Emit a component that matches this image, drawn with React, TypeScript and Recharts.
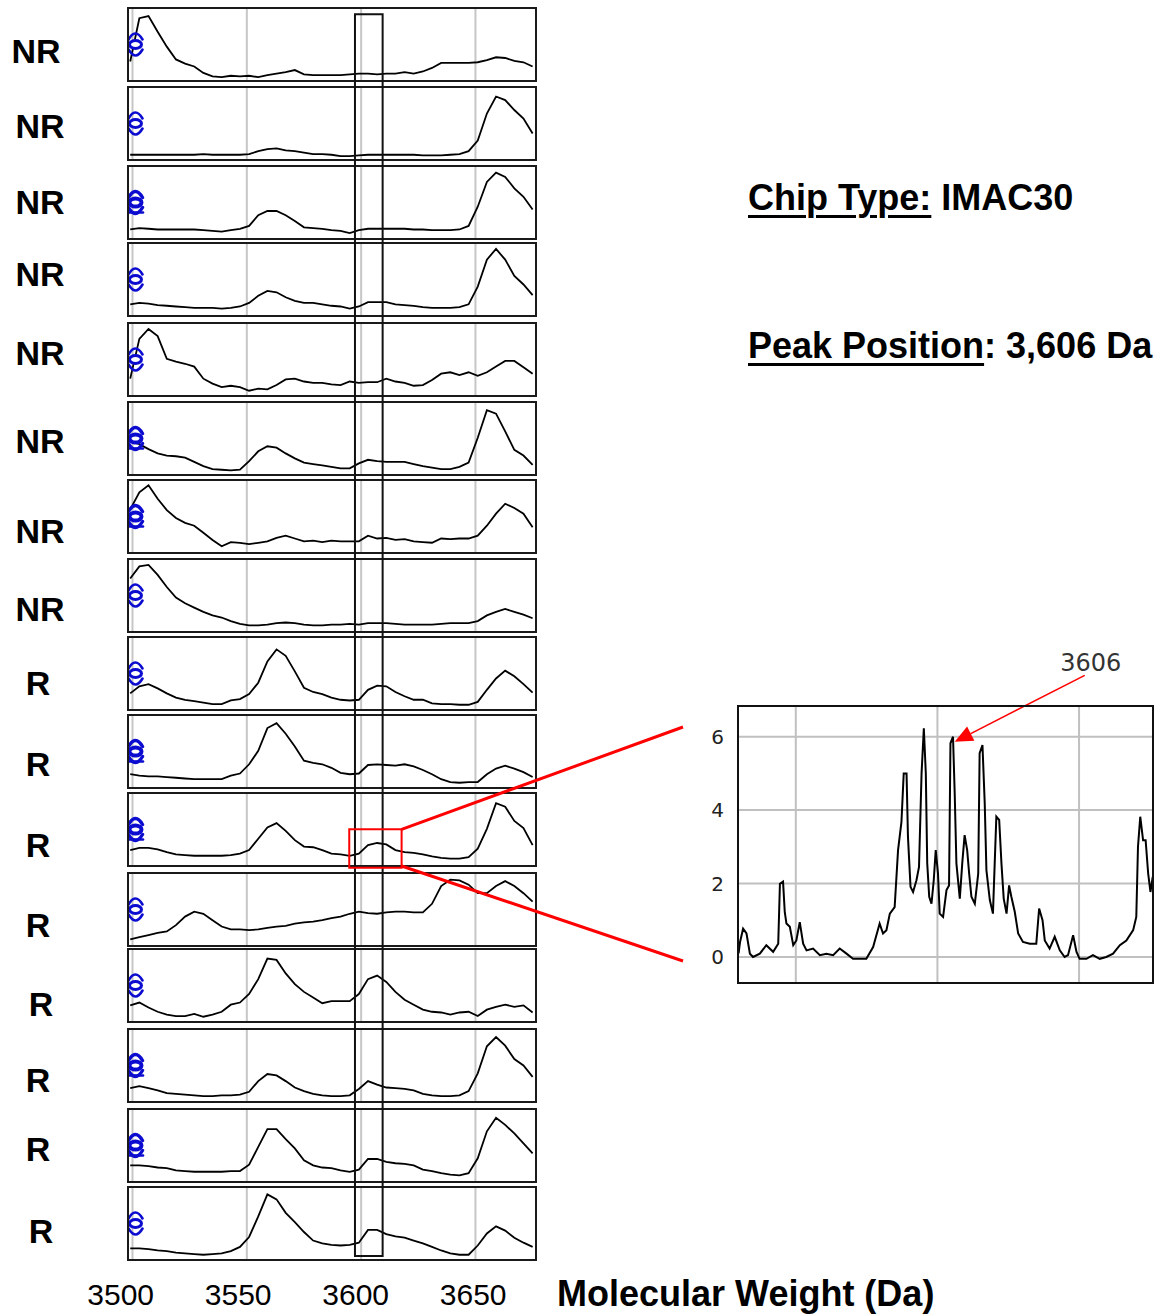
import React from 'react';
import { LineChart, Line, XAxis, YAxis, ReferenceLine, ReferenceArea, ReferenceDot } from 'recharts';

// masses (Da) at which each stacked spectrum was read
const masses = [
  3499, 3503, 3507, 3511, 3515, 3519, 3523, 3527, 3531, 3535, 3539, 3543, 3547, 3551, 3555,
  3559, 3563, 3567, 3571, 3575, 3579, 3583, 3587, 3591, 3595, 3599, 3603, 3607, 3611, 3615,
  3619, 3623, 3627, 3631, 3635, 3639, 3643, 3647, 3651, 3655, 3659, 3663, 3667, 3671, 3675,
];

// relative intensity (% of panel height), top to bottom
const nr1 = [26, 87, 90, 68, 47, 29, 23, 19, 10, 5, 4, 6, 5, 6, 4, 7, 9, 11, 14, 8, 7, 7, 7, 7, 8, 9, 9, 8, 9, 9, 11, 9, 12, 17, 24, 24, 24, 24, 25, 28, 32, 31, 27, 25, 19];
const nr2 = [6, 6, 6, 6, 6, 6, 6, 6, 7, 6, 6, 6, 6, 7, 11, 14, 15, 12, 11, 9, 7, 7, 6, 4, 4, 5, 6, 6, 6, 6, 6, 6, 5, 5, 5, 6, 7, 11, 26, 64, 88, 83, 69, 57, 36];
const nr3 = [12, 14, 13, 12, 12, 12, 12, 12, 11, 10, 9, 11, 13, 17, 32, 38, 38, 32, 24, 15, 14, 13, 11, 10, 7, 11, 13, 13, 13, 13, 13, 12, 12, 11, 11, 11, 12, 17, 44, 79, 92, 86, 70, 58, 40];
const nr4 = [15, 17, 16, 14, 13, 12, 11, 10, 10, 10, 9, 10, 12, 17, 27, 34, 32, 25, 20, 17, 17, 15, 13, 12, 9, 12, 18, 18, 18, 15, 14, 13, 11, 10, 10, 10, 11, 15, 40, 78, 93, 78, 55, 43, 28];
const nr5 = [23, 79, 93, 83, 51, 47, 44, 40, 23, 16, 11, 13, 11, 6, 9, 8, 14, 22, 23, 19, 17, 17, 15, 14, 19, 17, 18, 18, 23, 19, 17, 13, 14, 21, 30, 32, 28, 32, 27, 32, 40, 48, 48, 39, 30];
const nr6 = [46, 42, 35, 29, 26, 25, 23, 17, 11, 7, 6, 5, 6, 18, 32, 39, 37, 29, 22, 16, 14, 12, 10, 8, 8, 15, 20, 18, 17, 17, 17, 14, 11, 9, 7, 7, 10, 16, 51, 90, 85, 60, 34, 26, 13];
const nr7 = [60, 84, 94, 75, 59, 48, 41, 37, 27, 17, 8, 14, 13, 11, 13, 15, 20, 23, 19, 15, 16, 14, 16, 15, 15, 15, 23, 19, 20, 17, 18, 15, 14, 13, 19, 18, 19, 19, 23, 37, 54, 68, 62, 54, 35];
const nr8 = [74, 91, 93, 79, 62, 47, 39, 33, 27, 22, 19, 14, 10, 8, 8, 9, 11, 12, 11, 9, 8, 8, 9, 9, 10, 9, 11, 11, 11, 10, 9, 9, 9, 9, 10, 11, 11, 11, 14, 22, 27, 31, 27, 23, 18];
const r1 = [22, 32, 35, 29, 22, 16, 13, 11, 9, 7, 7, 12, 14, 21, 37, 67, 84, 75, 53, 30, 24, 21, 16, 13, 12, 13, 27, 33, 32, 24, 18, 13, 13, 8, 7, 7, 6, 6, 10, 27, 43, 54, 46, 35, 23];
const r2 = [18, 16, 15, 15, 14, 13, 12, 11, 11, 11, 11, 16, 19, 32, 51, 83, 90, 75, 57, 37, 34, 32, 27, 20, 18, 19, 31, 32, 31, 30, 32, 29, 24, 18, 11, 7, 6, 7, 7, 18, 26, 30, 26, 21, 14];
const r3 = [21, 24, 24, 22, 18, 15, 14, 13, 13, 13, 13, 14, 16, 21, 37, 53, 59, 48, 35, 26, 25, 21, 16, 15, 13, 16, 28, 31, 29, 21, 18, 17, 15, 12, 10, 9, 9, 11, 23, 51, 87, 82, 62, 52, 28];
const r4 = [8, 11, 14, 17, 19, 28, 40, 47, 44, 35, 26, 22, 22, 21, 22, 24, 26, 27, 30, 32, 33, 35, 38, 40, 44, 47, 45, 44, 46, 47, 47, 46, 46, 58, 83, 92, 91, 85, 73, 73, 83, 90, 83, 73, 61];
const r5 = [22, 26, 19, 13, 9, 7, 7, 10, 6, 9, 13, 23, 26, 38, 59, 88, 86, 67, 52, 41, 33, 25, 28, 28, 28, 38, 59, 64, 55, 41, 30, 23, 16, 13, 12, 9, 12, 13, 7, 16, 20, 23, 20, 22, 12];
const r6 = [18, 21, 18, 15, 11, 10, 9, 8, 7, 7, 8, 8, 9, 13, 28, 38, 36, 28, 19, 14, 10, 8, 7, 7, 8, 17, 28, 23, 19, 18, 17, 15, 10, 8, 7, 7, 8, 14, 39, 77, 90, 78, 59, 50, 34];
const r7 = [22, 22, 21, 19, 18, 15, 14, 13, 13, 13, 13, 14, 14, 23, 48, 73, 73, 59, 46, 29, 22, 19, 18, 15, 13, 16, 31, 31, 27, 25, 24, 22, 16, 14, 11, 9, 8, 11, 32, 70, 89, 79, 67, 53, 39];
const r8 = [15, 15, 14, 12, 11, 9, 8, 7, 6, 7, 8, 11, 17, 31, 60, 91, 84, 65, 52, 38, 26, 22, 20, 19, 20, 23, 41, 41, 35, 32, 30, 26, 22, 17, 12, 8, 6, 6, 19, 36, 46, 40, 30, 23, 17];

const spectra = [nr1, nr2, nr3, nr4, nr5, nr6, nr7, nr8, r1, r2, r3, r4, r5, r6, r7, r8];
const sampleLabels = ['NR', 'NR', 'NR', 'NR', 'NR', 'NR', 'NR', 'NR', 'R', 'R', 'R', 'R', 'R', 'R', 'R', 'R'];
const gridMasses = [3500, 3550, 3600, 3650];
const windowMass = [3597.3, 3609.4];
const zoomMass = [3594.8, 3617.7];

// zoomed spectrum (inset)
const insetMasses = [
  3597.98, 3598.03, 3598.14, 3598.26, 3598.38, 3598.49, 3598.73, 3598.96, 3599.2, 3599.38,
  3599.44, 3599.55, 3599.61, 3599.67, 3599.79, 3599.91, 3600.02, 3600.14, 3600.26, 3600.38,
  3600.61, 3600.85, 3601.08, 3601.32, 3601.55, 3601.79, 3602.02, 3602.49, 3602.73, 3602.96,
  3603.08, 3603.2, 3603.32, 3603.49, 3603.61, 3603.73, 3603.81, 3603.91, 3603.96, 3604.05,
  3604.14, 3604.26, 3604.35, 3604.44, 3604.52, 3604.59, 3604.64, 3604.71, 3604.79, 3604.87,
  3604.94, 3605.02, 3605.08, 3605.2, 3605.32, 3605.41, 3605.46, 3605.55, 3605.61, 3605.67,
  3605.79, 3605.88, 3605.96, 3606.05, 3606.12, 3606.2, 3606.32, 3606.44, 3606.49, 3606.59,
  3606.67, 3606.73, 3606.85, 3606.96, 3607.08, 3607.18, 3607.26, 3607.34, 3607.44, 3607.53,
  3607.61, 3607.73, 3607.85, 3608.02, 3608.26, 3608.49, 3608.59, 3608.71, 3608.79, 3608.96,
  3609.14, 3609.32, 3609.49, 3609.61, 3609.79, 3609.91, 3610.02, 3610.26, 3610.49, 3610.73,
  3610.96, 3611.2, 3611.44, 3611.67, 3611.91, 3612.02, 3612.08, 3612.16, 3612.26, 3612.35,
  3612.44, 3612.52, 3612.6,
];
const insetIntensity = [
  0.1, 0.4, 0.77, 0.64, 0.09, 0, 0.09, 0.32, 0.14, 0.36,
  1.99, 2.05, 1.23, 0.91, 0.82, 0.32, 0.45, 0.95, 0.36, 0.18,
  0.23, 0.05, 0.09, 0.05, 0.23, 0.09, -0.05, -0.05, 0.27, 0.91,
  0.64, 0.73, 1.18, 1.36, 2.91, 3.68, 5.0, 5.0, 3.27, 1.91,
  1.77, 2.09, 2.45, 5.0, 6.23, 5.0, 2.55, 1.64, 1.45, 2.09,
  2.91, 2.27, 1.18, 1.09, 1.82, 1.95, 5.82, 6.0, 4.45, 2.55,
  1.59, 2.59, 3.32, 2.91, 2.27, 1.64, 1.45, 2.27, 5.55, 5.77,
  4.18, 2.36, 1.55, 1.18, 3.82, 3.73, 2.55, 1.59, 1.18, 1.95,
  1.64, 1.23, 0.64, 0.41, 0.36, 0.36, 1.32, 1.0, 0.45, 0.23,
  0.55, 0.18, 0, 0.05, 0.59, 0.14, -0.05, -0.05, 0.05, -0.05,
  0, 0.09, 0.32, 0.45, 0.73, 1.09, 3.0, 3.82, 3.18, 3.18,
  2.27, 1.77, 2.18,
];
const insetTicks = [0, 2, 4, 6];
const insetGridMasses = [3600, 3605, 3610];
const peakLabel = '3606';
const chipType = 'IMAC30';
const peakPosition = '3,606 Da';

// layout
const FONT = '"Liberation Sans", Arial, Helvetica, sans-serif';
const X0 = 132.5; // page x of 3500 Da in the panels
const PX_PER_DA = 2.2864;
const toMass = (px: number) => 3500 + (px - X0) / PX_PER_DA;
const labelMass = (px: number) => 3500 + (px - 120.7) / 2.35;

const PANEL_LEFT = 127;
const PANEL_W = 410;
const PANEL_H = 75;
const panelTops = [7, 86, 165, 242, 322, 401, 479, 558, 636, 714, 792, 872, 948, 1028, 1108, 1186];
const labelCenterY = [51, 126, 202, 274, 353, 441, 531, 609, 682.5, 764, 845, 925, 1004, 1080, 1148.5, 1231];
const labelCenterX = [36, 40, 40, 40, 40, 40, 40, 40, 38, 38, 38, 38, 41, 38, 38, 41];
const solidBadge = [false, false, true, false, false, true, true, false, false, true, true, false, false, true, true, false];
const panelDomain = [toMass(PANEL_LEFT + 2), toMass(PANEL_LEFT + PANEL_W - 2)];

const Badge = ({ cx, cy, solid }: { cx: number; cy: number; solid: boolean }) => (
  <g stroke="#0c0cd0" fill="none" strokeLinecap="round">
    <path d={`M${cx - 7},${cy - 5} Q${cx},${cy - 17} ${cx + 7},${cy - 5}`} strokeWidth={solid ? 3.4 : 2.6} />
    <ellipse cx={cx} cy={cy} rx={6} ry={4} strokeWidth={solid ? 4 : 3} fill="#fff" />
    <path d={`M${cx - 7},${cy + 5} Q${cx},${cy + 17} ${cx + 7},${cy + 5}`} strokeWidth={solid ? 3.4 : 2.6} />
    {solid && <line x1={cx - 7.5} y1={cy + 10} x2={cx + 7.5} y2={cy + 10} strokeWidth={2.6} />}
  </g>
);

const Panel = ({ values, top, solid }: { values: number[]; top: number; solid: boolean }) => {
  const data = masses.map((m, i) => ({ m, v: values[i] }));
  return (
    <div
      style={{
        position: 'absolute',
        left: PANEL_LEFT,
        top,
        width: PANEL_W,
        height: PANEL_H,
        border: '2px solid #1a1a1a',
        boxSizing: 'border-box',
      }}
    >
      <LineChart width={PANEL_W - 4} height={PANEL_H - 4} data={data} margin={{ top: 0, right: 0, bottom: 0, left: 0 }}>
        <XAxis dataKey="m" type="number" domain={panelDomain} allowDataOverflow hide />
        <YAxis type="number" domain={[0, 100]} allowDataOverflow hide />
        {gridMasses.map((g) => (
          <ReferenceLine key={g} x={g} stroke="#c6c6c6" strokeWidth={2} />
        ))}
        <Line dataKey="v" type="linear" stroke="#000" strokeWidth={1.8} dot={false} isAnimationActive={false} />
        <ReferenceDot
          x={toMass(135.5)}
          y={50}
          ifOverflow="visible"
          shape={(p: any) => <Badge cx={p.cx} cy={p.cy} solid={solid} />}
        />
      </LineChart>
    </div>
  );
};

const Arrow = (p: any) => {
  const { x1, y1, x2, y2 } = p;
  const ang = Math.atan2(y2 - y1, x2 - x1);
  const len = 18;
  const half = 8;
  const bx = x2 - len * Math.cos(ang);
  const by = y2 - len * Math.sin(ang);
  const nx = -Math.sin(ang) * half;
  const ny = Math.cos(ang) * half;
  return (
    <g>
      <line x1={x1} y1={y1} x2={bx} y2={by} stroke="#ff0000" strokeWidth={1.6} />
      <polygon points={`${x2},${y2} ${bx + nx},${by + ny} ${bx - nx},${by - ny}`} fill="#ff0000" />
      <text x={x1 + 6} y={y1 - 4} textAnchor="middle" fontFamily="DejaVu Sans" fontSize={24} fill="#333">
        {peakLabel}
      </text>
    </g>
  );
};

const Inset = () => {
  const data = insetMasses.map((m, i) => ({ m, v: insetIntensity[i] }));
  return (
    <>
      <div style={{ position: 'absolute', left: 690.3, top: 645.7 }}>
        <LineChart width={463} height={337.6} data={data} margin={{ top: 60, right: 0, bottom: 0, left: 0 }}>
          <XAxis dataKey="m" type="number" domain={[3597.96, 3612.61]} allowDataOverflow hide />
          <YAxis
            type="number"
            domain={[-0.725, 6.835]}
            allowDataOverflow
            width={48}
            ticks={insetTicks}
            interval={0}
            tickLine={false}
            axisLine={false}
            tickSize={0}
            tickMargin={14}
            tick={{ fontSize: 20, fill: '#222', fontFamily: 'DejaVu Sans' }}
          />
          {insetTicks.map((t) => (
            <ReferenceLine key={`h${t}`} y={t} stroke="#c0c0c0" strokeWidth={2} />
          ))}
          {insetGridMasses.map((g) => (
            <ReferenceLine key={`v${g}`} x={g} stroke="#c0c0c0" strokeWidth={2} />
          ))}
          <Line dataKey="v" type="linear" stroke="#000" strokeWidth={2} dot={false} isAnimationActive={false} />
          <ReferenceLine
            segment={[
              { x: 3610.2, y: 7.67 },
              { x: 3605.61, y: 5.86 },
            ]}
            ifOverflow="visible"
            shape={Arrow}
          />
        </LineChart>
      </div>
      <div
        style={{
          position: 'absolute',
          left: 737.3,
          top: 704.7,
          width: 417,
          height: 279.6,
          border: '2px solid #111',
          boxSizing: 'border-box',
          pointerEvents: 'none',
        }}
      />
    </>
  );
};

const Overlay = () => (
  <div style={{ position: 'absolute', left: 0, top: 0, pointerEvents: 'none' }}>
    <LineChart width={1163} height={1314} data={[]} margin={{ top: 0, right: 0, bottom: 0, left: 0 }}>
      <XAxis type="number" dataKey="m" domain={[toMass(0), toMass(1163)]} allowDataOverflow hide />
      <YAxis type="number" domain={[0, 1314]} reversed allowDataOverflow hide />
      <ReferenceArea x1={windowMass[0]} x2={windowMass[1]} y1={14.3} y2={1256} fill="none" stroke="#111" strokeWidth={2} />
      <ReferenceArea x1={zoomMass[0]} x2={zoomMass[1]} y1={829.3} y2={867.7} fill="none" stroke="#ff0000" strokeWidth={2} />
      <ReferenceLine
        segment={[
          { x: zoomMass[1], y: 829.3 },
          { x: toMass(683), y: 727 },
        ]}
        stroke="#ff0000"
        strokeWidth={3}
        ifOverflow="visible"
      />
      <ReferenceLine
        segment={[
          { x: zoomMass[1], y: 866 },
          { x: toMass(683), y: 961 },
        ]}
        stroke="#ff0000"
        strokeWidth={3}
        ifOverflow="visible"
      />
    </LineChart>
  </div>
);

const App: React.FC = () => (
  <div
    style={{
      position: 'absolute',
      left: 0,
      top: 0,
      width: 1163,
      height: 1314,
      background: '#fff',
      fontFamily: FONT,
      color: '#000',
    }}
  >
    {spectra.map((s, i) => (
      <Panel key={i} values={s} top={panelTops[i]} solid={solidBadge[i]} />
    ))}
    {sampleLabels.map((l, i) => (
      <div
        key={`l${i}`}
        style={{
          position: 'absolute',
          left: labelCenterX[i] - 40,
          width: 80,
          top: labelCenterY[i] - 16.6,
          textAlign: 'center',
          fontSize: 34,
          fontWeight: 700,
          lineHeight: '34px',
        }}
      >
        {l}
      </div>
    ))}

    <div style={{ position: 'absolute', left: 80, top: 1273.5 }}>
      <LineChart width={460} height={50} data={masses.map((m) => ({ m }))} margin={{ top: 0, right: 0, bottom: 0, left: 0 }}>
        <XAxis
          dataKey="m"
          type="number"
          domain={[labelMass(80), labelMass(540)]}
          allowDataOverflow
          ticks={gridMasses}
          interval={0}
          height={40}
          tickLine={false}
          axisLine={false}
          tickSize={0}
          tickMargin={0}
          tick={{ fontSize: 30, fill: '#000', fontFamily: FONT }}
        />
        <YAxis hide />
      </LineChart>
    </div>
    <div
      style={{
        position: 'absolute',
        left: 557,
        top: 1276.4,
        fontSize: 36,
        fontWeight: 700,
        lineHeight: '36px',
        whiteSpace: 'nowrap',
      }}
    >
      Molecular Weight (Da)
    </div>

    <div style={{ position: 'absolute', left: 748, top: 179.5, fontSize: 36, fontWeight: 700, lineHeight: '36px', whiteSpace: 'nowrap' }}>
      <span style={{ textDecoration: 'underline', textDecorationThickness: 3, textUnderlineOffset: 5 }}>Chip Type:</span> {chipType}
    </div>
    <div style={{ position: 'absolute', left: 748, top: 327.5, fontSize: 36, fontWeight: 700, lineHeight: '36px', whiteSpace: 'nowrap' }}>
      <span style={{ textDecoration: 'underline', textDecorationThickness: 3, textUnderlineOffset: 5 }}>Peak Position</span>: {peakPosition}
    </div>

    <Inset />
    <Overlay />
  </div>
);

export default App;
